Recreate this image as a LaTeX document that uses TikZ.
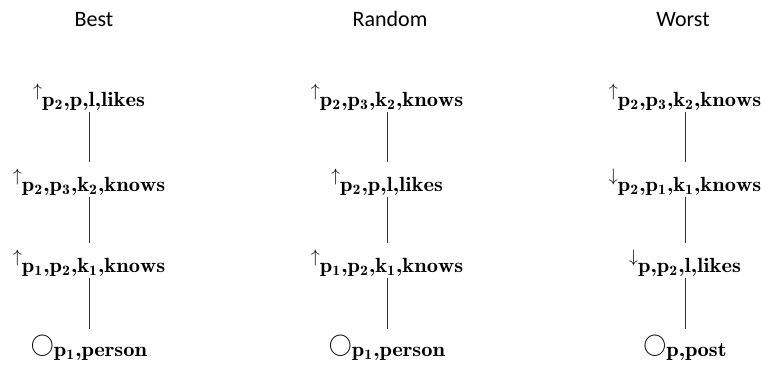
\documentclass[tikz,border=0pt]{standalone}
\usepackage{graphicx}
\usepackage{fontspec}
\newfontfamily\carlito{Carlito}
\newcommand{\sublbl}[1]{\scalebox{2.25}[2.05]{\mathcode`\,="702C $\mathbf{#1}$}}
\newcommand{\upe}[1]{\scalebox{1.8}{$\uparrow$}\raisebox{-10pt}{\sublbl{#1}}}
\newcommand{\dne}[1]{\scalebox{1.8}{$\downarrow$}\raisebox{-10pt}{\sublbl{#1}}}
\newcommand{\rte}[1]{\scalebox{2.3}{$\bigcirc$}\raisebox{-5pt}{\sublbl{#1}}}

\begin{document}
\begin{tikzpicture}[x=1pt, y=-1pt,
    ttl/.style={anchor=base, font=\carlito\fontsize{22}{26}\selectfont},
    lbl/.style={anchor=base, inner sep=2pt},
    link/.style={draw=black!80, line width=0.8pt, shorten >=4pt}]
  \useasboundingbox (0,0) rectangle (761,370);
  % titles
  \node[ttl] (tb) at (94,26) {Best};
  \node[ttl] (tr) at (390,26) {Random};
  \node[ttl] (tw) at (683,26) {Worst};
  % best
  \node[lbl] (b1) at (89,96) {\upe{p_2,p,l,likes}};
  \node[lbl] (b2) at (89,181) {\upe{p_2,p_3,k_2,knows}};
  \node[lbl] (b3) at (89,262) {\upe{p_1,p_2,k_1,knows}};
  \node[lbl] (b4) at (89,351) {\rte{p_1,person}};
  % random
  \node[lbl] (r1) at (387,96) {\upe{p_2,p_3,k_2,knows}};
  \node[lbl] (r2) at (387,181) {\upe{p_2,p,l,likes}};
  \node[lbl] (r3) at (387,262) {\upe{p_1,p_2,k_1,knows}};
  \node[lbl] (r4) at (387,351) {\rte{p_1,person}};
  % worst
  \node[lbl] (w1) at (685,96) {\upe{p_2,p_3,k_2,knows}};
  \node[lbl] (w2) at (685,181) {\dne{p_2,p_1,k_1,knows}};
  \node[lbl] (w3) at (685,262) {\dne{p,p_2,l,likes}};
  \node[lbl] (w4) at (685,351) {\rte{p,post}};
  \foreach \c in {b,r,w}
    \foreach \i/\j in {1/2,2/3,3/4}
      \draw[link] (\c\i.south) -- (\c\j.north);
\end{tikzpicture}
\end{document}
